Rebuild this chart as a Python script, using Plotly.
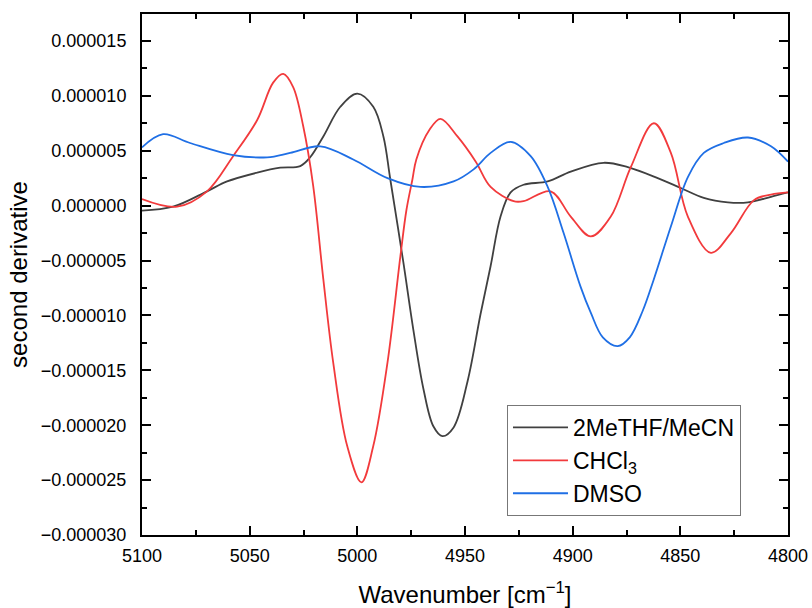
import plotly.graph_objects as go

# Wavenumber (cm^-1) and second-derivative values (units of 1e-6)
wn_mecn = [5100, 5085.6, 5069.8, 5060.5, 5046.5, 5035.8, 5026.5, 5021.9, 5015.8, 5007.9,
           5000, 4992.6, 4987.9, 4984.7, 4978.6, 4974.0, 4969.3, 4964.7, 4960.5, 4955.3,
           4948.8, 4942.8, 4938.1, 4933.5, 4928.8, 4922.8, 4911.6, 4900.9, 4885.6, 4874.4,
           4860.5, 4849.8, 4839.1, 4827.9, 4818.6, 4807.9, 4800]
d2_mecn = [-0.45, -0.1, 1.3, 2.2, 3.0, 3.45, 3.6, 4.4, 6.3, 9.0,
           10.2, 9.0, 6.3, 2.4, -5.2, -11.3, -16.7, -20.1, -21.0, -20.2,
           -16.0, -9.9, -5.5, -1.0, 1.2, 1.9, 2.2, 3.1, 3.9, 3.5,
           2.5, 1.6, 0.7, 0.3, 0.3, 0.8, 1.2]

wn_chcl3 = [5100, 5083.7, 5069.8, 5057.7, 5046.5, 5039.1, 5034.4, 5029.8, 5025.1, 5020.5,
            5015.8, 5011.2, 5004.7, 4998.1, 4992.6, 4986.0, 4980.0, 4977.2, 4974.4, 4972.6,
            4966.5, 4961.4, 4953.5, 4945.0, 4938.1, 4927.4, 4922.8, 4910.2, 4900.9, 4891.6,
            4882.3, 4873.0, 4862.3, 4854.4, 4846.5, 4835.8, 4826.5, 4815.8, 4807.9, 4800]
d2_chcl3 = [0.6, -0.1, 1.3, 4.5, 7.8, 11.2, 12.0, 10.8, 7.2, 1.8,
            -6.7, -14.3, -21.9, -25.2, -21.9, -14.3, -4.6, -0.4, 2.4, 4.2,
            6.9, 7.9, 6.3, 4.0, 1.7, 0.4, 0.4, 1.3, -1.0, -2.8,
            -1.0, 3.5, 7.5, 4.8, -1.0, -4.3, -2.5, 0.5, 1.0, 1.2]

wn_dmso = [5100, 5090.2, 5077.7, 5057.7, 5041.9, 5031.2, 5017.2, 5001.9, 4986.0, 4970.7,
           4955.3, 4946.0, 4938.1, 4928.8, 4919.5, 4911.6, 4904.2, 4896.3, 4891.5, 4886.0,
           4879.1, 4873.5, 4867.5, 4862.3, 4854.4, 4846.5, 4839.1, 4829.8, 4818.6, 4807.9,
           4800]
d2_dmso = [5.3, 6.5, 5.7, 4.6, 4.4, 4.8, 5.4, 4.2, 2.5, 1.7,
           2.2, 3.3, 4.8, 5.8, 4.5, 1.7, -2.5, -7.4, -9.8, -12.0,
           -12.8, -12.0, -9.6, -6.7, -1.9, 2.6, 4.8, 5.7, 6.2, 5.4,
           4.0]

SCALE = 1e-6
names = ["2MeTHF/MeCN", "CHCl<sub>3</sub>", "DMSO"]
colors = ["#404040", "#f23a3c", "#1f6fe5"]
series = [(wn_mecn, d2_mecn), (wn_chcl3, d2_chcl3), (wn_dmso, d2_dmso)]

fig = go.Figure()
for (x, y), n, c in zip(series, names, colors):
    fig.add_trace(go.Scatter(x=x, y=[v * SCALE for v in y], mode="lines", name=n,
                             line=dict(color=c, width=1.8, shape="spline", smoothing=1.0)))

FONT = "Liberation Sans, Arial, sans-serif"
axis_common = dict(showline=True, linecolor="black", linewidth=2, mirror="allticks",
                   ticks="inside", ticklen=9, tickwidth=2, tickcolor="black",
                   showgrid=False, zeroline=False, automargin=False,
                   tickfont=dict(family=FONT, size=18, color="black"))

fig.update_xaxes(range=[5100, 4800], dtick=50, tick0=5100,
                 minor=dict(dtick=25, ticks="inside", ticklen=5, tickwidth=2, tickcolor="black"),
                 title=dict(text="Wavenumber [cm<sup>−1</sup>]", font=dict(family=FONT, size=24, color="black"),
                            standoff=22),
                 ticklabelstandoff=3, **axis_common)
fig.update_yaxes(range=[-3e-5, 1.745e-5], dtick=5e-6, tick0=0, tickformat=".6f",
                 minor=dict(dtick=2.5e-6, ticks="inside", ticklen=5, tickwidth=2, tickcolor="black"),
                 title=dict(text="second derivative", font=dict(family=FONT, size=24, color="black"),
                            standoff=6),
                 ticklabelstandoff=10, **axis_common)

fig.update_layout(
    width=812, height=608,
    margin=dict(l=142, r=24, t=14, b=73),
    plot_bgcolor="white", paper_bgcolor="white",
    legend=dict(x=0.565, y=0.2495, xanchor="left", yanchor="top",
                bordercolor="#777777", borderwidth=1, bgcolor="white",
                font=dict(family=FONT, size=23, color="black"),
                tracegroupgap=0, itemwidth=55),
    showlegend=True,
)

fig.write_html("out.html")
